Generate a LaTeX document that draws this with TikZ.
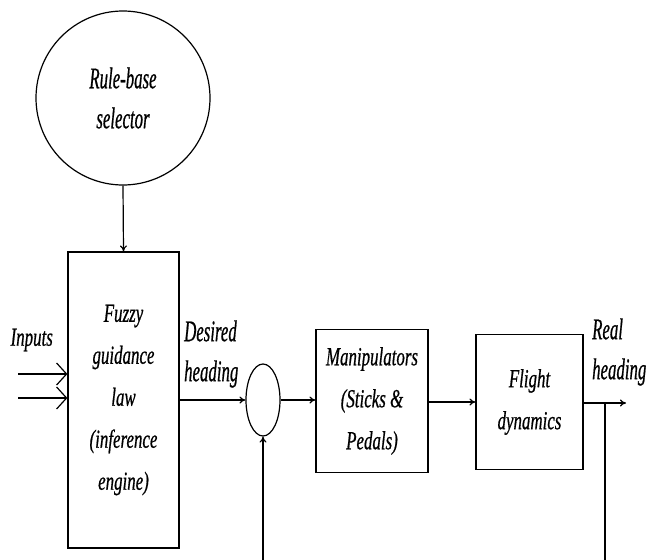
\documentclass[tikz,border=0pt]{standalone}
\usepackage{fontspec}
\newfontfamily\dfontA[FakeStretch=0.56, FakeBold=0.6]{Liberation Serif}
\newfontfamily\dfontB[FakeStretch=0.65, FakeBold=0.6]{Liberation Serif}
\usetikzlibrary{arrows.meta,shapes.geometric}
\tikzset{
  lbl/.style={font=\dfontA\itshape\fontsize{30}{40}\selectfont, inner sep=0pt},
  blk/.style={draw, line width=1.2pt, inner sep=0pt, align=center, font=\dfontB\itshape\fontsize{26}{42}\selectfont},
  wire/.style={line width=1.2pt},
  arr/.style={wire, -{To[length=6pt,width=7pt]}},
  inarr/.style={wire, -{Straight Barb[length=10pt,width=22pt]}},
}
\begin{document}
\begin{tikzpicture}[x=1pt,y=-1pt]
\useasboundingbox (0,0) rectangle (649,560);
\node[blk, circle, minimum size=174pt, font=\dfontA\itshape\fontsize{30}{40}\selectfont] (rb) at (123,98) {Rule-base\\selector};
\node[blk, rectangle, minimum width=111pt, minimum height=296pt] (fgl) at (123.5,400) {Fuzzy\\guidance\\law\\(inference\\engine)};
\node[draw, line width=1.2pt, ellipse, inner sep=0pt, minimum width=34pt, minimum height=72pt] (sum) at (263,400) {};
\node[blk, rectangle, minimum width=112pt, minimum height=143pt] (man) at (372,401) {Manipulators\\(Sticks \&\\Pedals)};
\node[blk, rectangle, minimum width=107pt, minimum height=135pt] (fd) at (529.5,402) {Flight\\dynamics};
\node[blk, draw=none, anchor=west] (inp) at (10,340) {Inputs};
\node[lbl, anchor=west, align=left] (des) at (184,354) {Desired\\heading};
\node[lbl, anchor=west, align=left] (real) at (592,352) {Real\\heading};
\coordinate (in1) at (18,374);
\coordinate (in2) at (18,398);
\coordinate (out) at (626,403);
\coordinate (br) at (605,403);
\coordinate (brb) at (605,560);
\coordinate (fbb) at (263,560);
\draw[arr] (rb.south) -- (fgl.north);
\draw[inarr] (in1) -- (in1 -| fgl.west);
\draw[inarr] (in2) -- (in2 -| fgl.west);
\draw[arr] (fgl.east |- sum.west) -- (sum.west);
\draw[arr] (sum.east) -- (sum.east -| man.west);
\draw[arr] (man.east |- fd.west) -- (fd.west);
\draw[arr] (fd.east |- out) -- (out);
\draw[wire] (br) -- (brb);
\draw[arr] (fbb) -- (sum.south);
\end{tikzpicture}
\end{document}
